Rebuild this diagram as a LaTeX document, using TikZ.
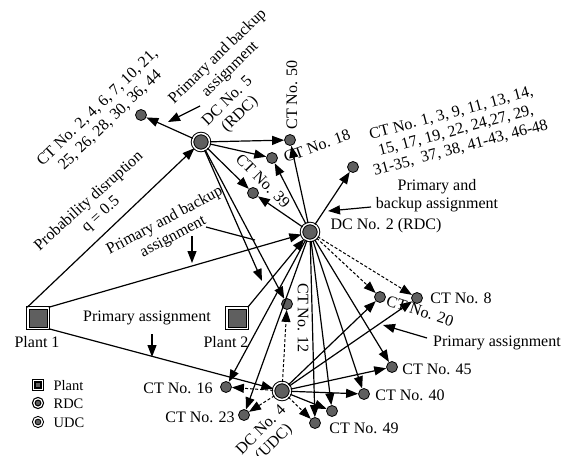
\documentclass[tikz,border=0pt]{standalone}
\usepackage{fontspec}
\setmainfont{Liberation Serif}
\usetikzlibrary{arrows.meta}
\definecolor{dcgray}{RGB}{95,95,95}

\begin{document}
\begin{tikzpicture}[x=1pt, y=-1pt, font=\fontsize{16}{18}\selectfont, line width=1.2pt,
  >={Triangle[length=12pt,width=9pt]},
  plant/.style={draw, double, double distance=1.5pt, line width=1pt, fill=dcgray, minimum size=20.5pt, inner sep=0pt},
  dc/.style={circle, draw, double, double distance=1.5pt, line width=1pt, fill=dcgray, minimum size=17pt, inner sep=0pt},
  ct/.style={circle, draw, line width=0.8pt, fill=dcgray, minimum size=11pt, inner sep=0pt},
  lbl/.style={inner sep=0pt, align=center},
  backup/.style={line width=1pt, dash pattern=on 3pt off 2pt}]
  \useasboundingbox (0,0) rectangle (569,455);

  % plants and DCs
  \node[plant] (plant1) at (38,318) {};
  \node[plant] (plant2) at (237,318) {};
  \node[dc] (dc5) at (201,142) {};
  \node[dc] (dc2) at (310,232) {};
  \node[dc] (dc4) at (282,391) {};

  % customers
  \node[ct] (ctgrpa) at (141,115) {};
  \node[ct] (ct50) at (290,140) {};
  \node[ct] (ct18) at (272,158) {};
  \node[ct] (ct39) at (253,193) {};
  \node[ct] (ctgrpb) at (353,167) {};
  \node[ct] (ct12) at (287,304) {};
  \node[ct] (ct16) at (226,387) {};
  \node[ct] (ct23) at (244,415) {};
  \node[ct] (ct49) at (315,423) {};
  \node[ct] (ctx) at (332,411) {};
  \node[ct] (ct40) at (364,394) {};
  \node[ct] (ct45) at (392,367) {};
  \node[ct] (ct20) at (380,297) {};
  \node[ct] (ct8) at (417,298) {};
  \coordinate (dc5end) at (262,281);

  % labels
  \node[lbl] (plant1lbl) at (37,342) {Plant 1};
  \node[lbl] (plant2lbl) at (226,342) {Plant 2};
  \node[lbl, rotate=44] (dc5lbl) at (234,108) {DC No. 5\\(RDC)};
  \node[lbl] (dc2lbl) at (386,226) {DC No. 2 (RDC)};
  \node[lbl, rotate=45] (dc4lbl) at (268,437) {DC No. 4\\(UDC)};
  \node[lbl, rotate=44] (ctgrpalbl) at (104,114) {CT No. 2, 4, 6, 7, 10, 21,\\25, 26, 28, 30, 36, 44};
  \node[lbl, rotate=15] (ctgrpblbl) at (456,131) {CT No. 1, 3, 9, 11, 13, 14,\\15, 17, 19, 22, 24,27, 29,\\31-35,\ \ 37, 38, 41-43, 46-48};
  \node[lbl, rotate=90] (ct50lbl) at (292,95) {CT No. 50};
  \node[lbl, rotate=20] (ct18lbl) at (317,146) {CT No. 18};
  \node[lbl, rotate=-45] (ct39lbl) at (263,181) {CT No. 39};
  \node[lbl, rotate=-90] (ct12lbl) at (303,318) {CT No. 12};
  \node[lbl, rotate=-18] (ct20lbl) at (420,311) {CT No. 20};
  \node[lbl] (ct8lbl) at (461,298) {CT No. 8};
  \node[lbl] (ct45lbl) at (437,369) {CT No. 45};
  \node[lbl] (ct40lbl) at (410,395) {CT No. 40};
  \node[lbl] (ct49lbl) at (364,428) {CT No. 49};
  \node[lbl] (ct16lbl) at (178,388) {CT No. 16};
  \node[lbl] (ct23lbl) at (200,417) {CT No. 23};
  \node[lbl, rotate=42] (problbl) at (95,208) {Probability disruption\\q = 0.5};

  % assignment notes
  \node[lbl, rotate=44] (notetop) at (224,63) {Primary and backup\\assignment};
  \node[lbl, rotate=28] (noteleft) at (169,229) {Primary and backup\\assignment};
  \node[lbl] (noteright) at (437,196) {Primary and\\backup assignment};
  \node[lbl] (noteplant) at (147,318) {Primary assignment};
  \node[lbl] (notelow) at (497,343) {Primary assignment};
  \coordinate (ntops) at (200,106);   \coordinate (ntope) at (168,122);
  \coordinate (nlefts) at (192,236);  \coordinate (nlefte) at (192,263);
  \coordinate (nleftt) at (206,227);  \coordinate (nleftu) at (255,240);
  \coordinate (nrights) at (371,207); \coordinate (nrighte) at (328,211);
  \coordinate (nplants) at (152,334); \coordinate (nplante) at (152,357);
  \coordinate (nlows) at (427,338);   \coordinate (nlowe) at (383,325);

  % plant flows
  \draw[->] (plant1.north west) -- (dc5);
  \draw[->] (plant1.north east) -- (dc2);
  \draw[->] (plant1.south east) -- (dc4);
  \draw[->] (plant2.north east) -- (dc2);

  % DC No. 5
  \draw[->] (dc5) -- (ctgrpa);
  \draw[->] (dc5) -- (ct50);
  \draw[->] (dc5) -- (ct18);
  \draw[->] (dc5) -- (ct39);
  \draw[->] (dc5) -- (ct12);
  \draw[->] (dc5) -- (dc5end);

  % DC No. 2
  \foreach \c in {ctgrpb, ct50, ct18, ct39, ct16, ct23, ct49, ctx, ct40, ct45}
    \draw[->] (dc2) -- (\c);
  \draw[->, backup] (dc2) -- (ct20);
  \draw[->, backup] (dc2) -- (ct8);

  % DC No. 4
  \foreach \c in {ct20, ct8, ct45, ct40, ctx}
    \draw[->] (dc4) -- (\c);
  \foreach \c in {ct12, ct16, ct23, ct49}
    \draw[->, backup] (dc4) -- (\c);

  % note arrows
  \draw[->] (ntops) -- (ntope);
  \draw[->] (nlefts) -- (nlefte);
  \draw (nleftt) -- (nleftu);
  \draw[->] (nrights) -- (nrighte);
  \draw[->] (nplants) -- (nplante);
  \draw[->] (nlows) -- (nlowe);

  % legend
  \node[plant, minimum size=8.5pt, line width=1.2pt, double distance=1.2pt] (keyplant) at (38,385) {};
  \node[dc, minimum size=8.5pt, line width=1.2pt, double distance=1.2pt] (keyrdc) at (38,403) {};
  \node[dc, minimum size=8.5pt, line width=1pt, double distance=1.4pt] (keyudc) at (38,422) {};
  \node[lbl, anchor=west, font=\fontsize{14.5}{16}\selectfont] (keyplantlbl) at (53,386) {Plant};
  \node[lbl, anchor=west, font=\fontsize{14.5}{16}\selectfont] (keyrdclbl) at (53,404) {RDC};
  \node[lbl, anchor=west, font=\fontsize{14.5}{16}\selectfont] (keyudclbl) at (53,423) {UDC};
\end{tikzpicture}
\end{document}
